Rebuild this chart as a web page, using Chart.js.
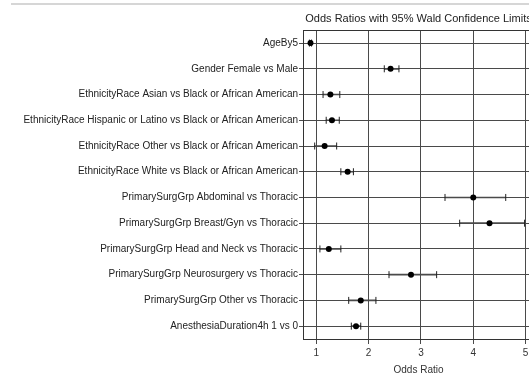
<!DOCTYPE html>
<html>
<head>
<meta charset="utf-8">
<script src="https://cdn.jsdelivr.net/npm/chart.js@4/dist/chart.umd.min.js"></script>
<style>
  html, body { margin: 0; padding: 0; background: #fff; overflow: hidden; }
  #wrap { position: relative; width: 529px; height: 382px; overflow: hidden; }
  #topline { position: absolute; left: 11px; right: 0; top: 3px; height: 2px; background: #d6d6d6; }
  #chart { position: absolute; left: 0; top: 0; }
</style>
</head>
<body>
<div id="wrap">
  <div id="topline"></div>
  <canvas id="chart" width="540" height="382"></canvas>
</div>
<script>
// effects, top to bottom
const effects = [
  'AgeBy5',
  'Gender Female vs Male',
  'EthnicityRace Asian vs Black or African American',
  'EthnicityRace Hispanic or Latino vs Black or African American',
  'EthnicityRace Other vs Black or African American',
  'EthnicityRace White vs Black or African American',
  'PrimarySurgGrp Abdominal vs Thoracic',
  'PrimarySurgGrp Breast/Gyn vs Thoracic',
  'PrimarySurgGrp Head and Neck vs Thoracic',
  'PrimarySurgGrp Neurosurgery vs Thoracic',
  'PrimarySurgGrp Other vs Thoracic',
  'AnesthesiaDuration4h 1 vs 0'
];

// point estimates and 95% Wald limits
const oddsRatio = [0.89, 2.42, 1.27, 1.30, 1.16, 1.60, 4.00, 4.31, 1.24, 2.81, 1.85, 1.76];
const lowerCL   = [0.87, 2.30, 1.13, 1.19, 0.97, 1.47, 3.46, 3.74, 1.07, 2.39, 1.62, 1.67];
const upperCL   = [0.91, 2.58, 1.45, 1.44, 1.39, 1.71, 4.62, 4.98, 1.47, 3.30, 2.14, 1.85];

const xTicks = [1, 2, 3, 4, 5];

const FONT = '"Liberation Sans", Arial, sans-serif';
const GRID = '#4a4a4a';

// draw the full box around the plot area
const framePlugin = {
  id: 'frame',
  afterDraw(chart) {
    const a = chart.chartArea;
    const ctx = chart.ctx;
    ctx.save();
    ctx.strokeStyle = '#333';
    ctx.lineWidth = 1;
    ctx.strokeRect(Math.round(a.left) + 0.5, Math.round(a.top) + 0.5,
      Math.round(a.right - a.left), Math.round(a.bottom - a.top));
    ctx.restore();
  }
};

const ctx = document.getElementById('chart').getContext('2d');
new Chart(ctx, {
  type: 'bar',
  data: {
    labels: effects,
    datasets: [
      {
        type: 'bar',
        data: effects.map((e, i) => [lowerCL[i], upperCL[i]]),
        backgroundColor: GRID,
        barThickness: 1,
        order: 3
      },
      {
        type: 'line',
        indexAxis: 'y',
        data: lowerCL,
        showLine: false,
        pointStyle: 'line',
        rotation: 90,
        radius: 3.5,
        borderWidth: 1,
        borderColor: '#222',
        order: 2
      },
      {
        type: 'line',
        indexAxis: 'y',
        data: upperCL,
        showLine: false,
        pointStyle: 'line',
        rotation: 90,
        radius: 3.5,
        borderWidth: 1,
        borderColor: '#222',
        order: 2
      },
      {
        type: 'line',
        indexAxis: 'y',
        data: oddsRatio,
        showLine: false,
        pointStyle: 'circle',
        radius: 3,
        backgroundColor: '#000',
        borderColor: '#000',
        borderWidth: 0,
        order: 1
      }
    ]
  },
  options: {
    indexAxis: 'y',
    responsive: false,
    animation: false,
    layout: { padding: { left: 0, right: 6, top: 0, bottom: 6 } },
    plugins: {
      legend: { display: false },
      tooltip: { enabled: false },
      title: {
        display: true,
        text: 'Odds Ratios with 95% Wald Confidence Limits',
        fullSize: false,
        align: 'center',
        color: '#222',
        font: { family: FONT, size: 11, weight: 'normal' },
        padding: { top: 12, bottom: 5 }
      }
    },
    scales: {
      x: {
        type: 'linear',
        min: 0.747,
        max: 5.16,
        afterBuildTicks(scale) {
          scale.ticks = xTicks.map(v => ({ value: v }));
        },
        ticks: {
          color: '#333',
          font: { family: FONT, size: 10 },
          padding: 3,
          maxRotation: 0
        },
        grid: { color: GRID, lineWidth: 1, tickLength: 5, tickColor: GRID },
        border: { color: '#333' },
        title: {
          display: true,
          text: 'Odds Ratio',
          color: '#333',
          font: { family: FONT, size: 10 },
          padding: { top: 2, bottom: 0 }
        }
      },
      y: {
        type: 'category',
        offset: true,
        afterFit(scale) { scale.width = 303; },
        ticks: {
          color: '#222',
          font: { family: FONT, size: 10 },
          padding: 1,
          autoSkip: false
        },
        grid: { offset: false, color: GRID, lineWidth: 1, tickLength: 4, tickColor: GRID },
        border: { color: '#333' }
      }
    }
  },
  plugins: [framePlugin]
});
</script>
</body>
</html>
